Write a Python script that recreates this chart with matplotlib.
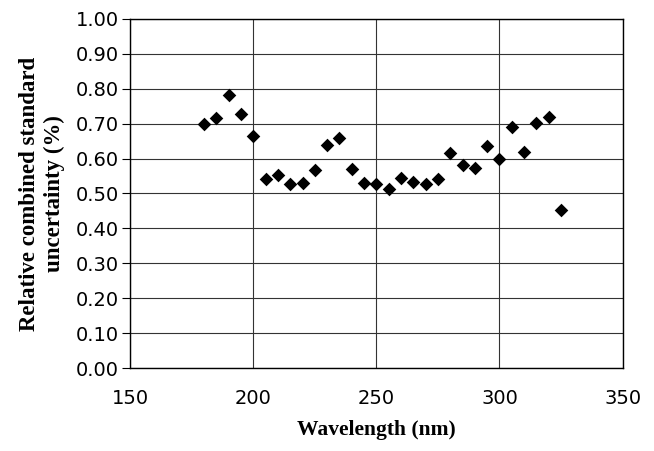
import numpy as np
import matplotlib

matplotlib.use("Agg")
import matplotlib.pyplot as plt

# wavelength (nm) and relative combined standard uncertainty (%)
wavelength = [180, 185, 190, 195, 200, 205, 210, 215, 220, 225,
              230, 235, 240, 245, 250, 255, 260, 265, 270, 275,
              280, 285, 290, 295, 300, 305, 310, 315, 320, 325]
uncertainty = [0.700, 0.715, 0.783, 0.728, 0.665, 0.541, 0.552, 0.526, 0.531, 0.566,
               0.639, 0.659, 0.569, 0.531, 0.528, 0.514, 0.543, 0.534, 0.528, 0.541,
               0.616, 0.581, 0.573, 0.636, 0.598, 0.691, 0.620, 0.702, 0.718, 0.452]
x_ticks = [150, 200, 250, 300, 350]
y_ticks = [0.0, 0.1, 0.2, 0.3, 0.4, 0.5, 0.6, 0.7, 0.8, 0.9, 1.0]

fig = plt.figure(figsize=(6.54, 4.51), dpi=100)
ax = fig.add_axes([0.199, 0.184, 0.753, 0.774])

ax.scatter(wavelength, uncertainty, marker="D", s=48, color="black",
           linewidths=0, zorder=3)

ax.set_xlim(150, 350)
ax.set_ylim(0, 1.0)
ax.set_xticks(x_ticks)
ax.set_yticks(y_ticks)
ax.set_yticklabels([f"{v:.2f}" for v in y_ticks])
ax.grid(True, color="#333333", lw=0.8)
ax.set_axisbelow(True)
for s in ax.spines.values():
    s.set_color("black")
    s.set_linewidth(1.0)
ax.tick_params(axis="y", length=6, width=0.8, labelsize=14, pad=2)
ax.tick_params(axis="x", length=0, labelsize=14, pad=15)
for lab in ax.get_xticklabels() + ax.get_yticklabels():
    lab.set_fontfamily("DejaVu Sans")

ax.set_xlabel("Wavelength (nm)", fontsize=15.5, fontweight="bold",
              family="Liberation Serif", labelpad=9)
ax.set_ylabel("Relative combined standard\nuncertainty (%)", fontsize=16.5,
              fontweight="bold", family="Liberation Serif", labelpad=8)

fig.savefig("out.png", dpi=100)
